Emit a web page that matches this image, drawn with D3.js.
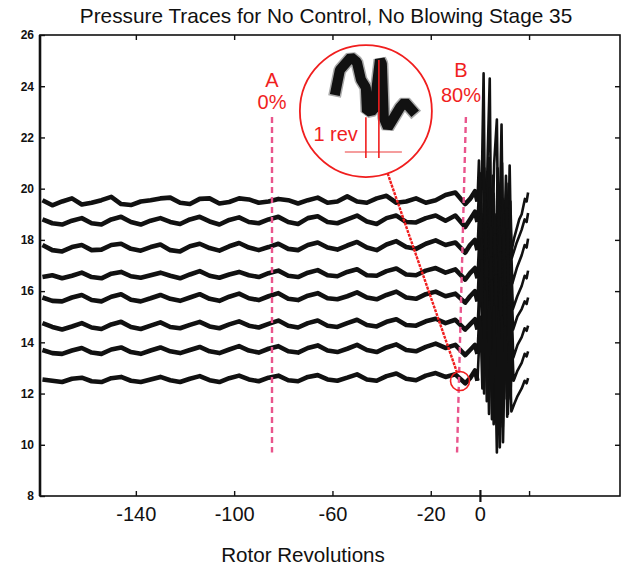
<!DOCTYPE html>
<html>
<head>
<meta charset="utf-8">
<script src="https://d3js.org/d3.v7.min.js"></script>
<style>
  body { margin: 0; background: #fff; }
  svg { display: block; font-family: "Liberation Sans", Arial, Helvetica, sans-serif; }
</style>
</head>
<body>
<div id="chart"></div>
<script>
var title = "Pressure Traces for No Control, No Blowing Stage 35";
var xTitle = "Rotor Revolutions";

var xTicks = [-140, -100, -60, -20, 0, 20];
var xTickLabels = ["-140", "-100", "-60", "-20", "0", ""];
var yTicks = [8, 10, 12, 14, 16, 18, 20, 22, 24, 26];

// traces sampled every 4 revs, starting at -178
var sampleRevs = d3.range(-178, -5, 4);

var trace1 = [19.55,19.35,19.5,19.62,19.38,19.45,19.55,19.68,19.4,19.36,19.5,19.55,19.62,19.65,19.45,19.4,19.6,19.62,19.42,19.48,19.62,19.58,19.45,19.5,19.6,19.55,19.42,19.55,19.65,19.45,19.5,19.7,19.5,19.45,19.62,19.72,19.45,19.5,19.62,19.45,19.55,19.75,19.85,19.4];
var trace2 = [18.8,18.65,18.6,18.75,18.85,18.65,18.6,18.8,18.9,18.7,18.6,18.75,18.85,18.7,18.62,18.8,18.9,18.72,18.6,18.78,18.88,18.7,18.65,18.8,18.9,18.7,18.62,18.85,18.92,18.7,18.65,18.8,18.95,18.72,18.62,18.85,18.95,18.7,18.68,18.85,18.95,18.75,18.95,18.5];
var trace3 = [17.8,17.6,17.55,17.72,17.8,17.6,17.62,17.8,17.85,17.65,17.58,17.72,17.82,17.6,17.55,17.75,17.85,17.68,17.58,17.75,17.88,17.7,17.6,17.72,17.85,17.65,17.6,17.8,17.9,17.7,17.62,17.78,17.92,17.7,17.6,17.82,17.95,17.72,17.65,17.85,17.98,17.8,17.9,17.5];
var trace4 = [16.55,16.62,16.5,16.6,16.72,16.55,16.5,16.68,16.75,16.58,16.52,16.62,16.72,16.6,16.5,16.65,16.78,16.6,16.52,16.65,16.75,16.62,16.55,16.7,16.8,16.6,16.55,16.72,16.82,16.62,16.58,16.75,16.85,16.62,16.6,16.78,16.88,16.65,16.62,16.8,16.9,16.72,16.85,16.45];
var trace5 = [15.75,15.62,15.6,15.75,15.85,15.65,15.6,15.78,15.88,15.66,15.6,15.72,15.85,15.7,15.62,15.75,15.88,15.7,15.62,15.78,15.9,15.72,15.65,15.8,15.92,15.7,15.65,15.82,15.92,15.72,15.68,15.8,15.95,15.75,15.68,15.85,15.98,15.75,15.7,15.88,15.98,15.8,15.9,15.55];
var trace6 = [14.75,14.6,14.5,14.62,14.75,14.58,14.52,14.7,14.8,14.6,14.52,14.65,14.78,14.6,14.55,14.68,14.8,14.62,14.55,14.7,14.82,14.65,14.58,14.72,14.85,14.65,14.58,14.75,14.85,14.65,14.6,14.75,14.88,14.68,14.62,14.8,14.9,14.68,14.65,14.82,14.92,14.75,14.88,14.5];
var trace7 = [13.7,13.58,13.55,13.68,13.78,13.6,13.55,13.72,13.8,13.62,13.55,13.68,13.8,13.65,13.58,13.7,13.82,13.65,13.58,13.72,13.85,13.68,13.6,13.75,13.85,13.65,13.6,13.78,13.88,13.68,13.62,13.75,13.9,13.7,13.62,13.8,13.92,13.7,13.65,13.82,13.95,13.78,13.9,13.5];
var trace8 = [12.55,12.5,12.45,12.58,12.62,12.48,12.45,12.6,12.65,12.5,12.45,12.55,12.65,12.52,12.45,12.58,12.68,12.52,12.45,12.6,12.7,12.55,12.48,12.62,12.7,12.52,12.48,12.65,12.72,12.55,12.5,12.62,12.75,12.55,12.5,12.68,12.78,12.58,12.52,12.7,12.8,12.65,12.75,12.4];

// stall / surge part of each trace: [rev, pressure]
var surge1 = [[-4,19.6],[-2,19.9],[-1,19.5],[-0.4,21.1],[0.3,17.5],[1.5,24.5],[2.2,17],[3.2,21.5],[4,24.3],[4.7,16.5],[5.8,21],[6.9,22.7],[7.6,16.8],[8.8,22.5],[9.5,16.5],[10.6,20.5],[11.4,17.2],[12.1,20.9],[12.7,17.5],[14,18.1],[16,18.8],[17,19.0],[18.3,19.6],[19,19.5],[19.6,19.85]];
var surge2 = [[-4,18.8],[-2,19.1],[-1,18.7],[0,20.6],[0.8,16.2],[1.8,20.8],[2.6,15.8],[3.6,21.2],[4.3,15.5],[5.3,20.5],[6.2,15.2],[7.2,20.8],[8,15.4],[9,21],[9.8,15.8],[10.8,20.2],[11.6,16.2],[12.4,19.5],[13,17.3],[15,17.9],[17,18.4],[18.2,18.8],[19,18.7],[19.6,19.05]];
var surge3 = [[-4,17.8],[-2,18.0],[-1,17.6],[0.2,20.2],[1,14.6],[2,19.8],[2.9,14.3],[3.9,20],[4.6,14.2],[5.6,19.8],[6.5,14],[7.5,20.2],[8.3,14.2],[9.2,19.6],[10.1,14.5],[11,19.2],[11.9,15.2],[12.6,18],[13.2,16.3],[15,16.9],[17,17.4],[18.2,17.8],[19,17.7],[19.6,18.05]];
var surge4 = [[-4,16.7],[-2,16.9],[-1,16.5],[0.4,19.4],[1.2,13.8],[2.2,19.5],[3.1,13.4],[4.1,19.2],[5,13],[6,19],[6.8,12.8],[7.8,19.3],[8.6,13],[9.6,19],[10.4,13.3],[11.3,18.4],[12.1,14.2],[12.8,17],[13.4,15.3],[15.2,15.8],[17,16.2],[18.2,16.6],[19,16.5],[19.6,16.8]];
var surge5 = [[-4,15.8],[-2,16.0],[-1,15.6],[0.6,19],[1.4,13],[2.5,18.6],[3.4,12.4],[4.4,18.5],[5.2,12.2],[6.2,18.2],[7,12],[8,18.5],[8.9,12.3],[9.8,18.2],[10.7,12.6],[11.5,17.4],[12.2,13.6],[12.9,16],[13.5,14.5],[15.2,15],[17,15.3],[18.2,15.6],[19,15.5],[19.6,15.75]];
var surge6 = [[-4,14.7],[-2,14.9],[-1,14.5],[0.7,18],[1.6,12.5],[2.7,17.6],[3.6,11.8],[4.6,17.3],[5.4,11.5],[6.4,17.4],[7.3,11.3],[8.3,17.5],[9.1,11.5],[10.1,17.2],[10.9,11.8],[11.7,16.3],[12.4,12.6],[13,15],[13.6,13.4],[15.3,13.9],[17,14.2],[18.2,14.55],[19,14.45],[19.6,14.65]];
var surge7 = [[-4,13.7],[-2,13.9],[-1,13.55],[0.8,17.2],[1.7,12],[2.8,16.5],[3.7,11.2],[4.8,16.4],[5.6,10.8],[6.6,16.6],[7.4,10.5],[8.4,16.5],[9.3,10.7],[10.2,16.2],[11.1,11.1],[11.8,15.4],[12.5,11.8],[13.1,14],[13.7,12.5],[15.3,12.9],[17,13.2],[18.2,13.55],[19,13.45],[19.6,13.65]];
var surge8 = [[-4,12.6],[-2,12.9],[-1,12.5],[0.2,15],[1,12.2],[2,16],[2.8,11.7],[3.9,15.6],[4.9,11.0],[5.8,15.4],[6.9,9.7],[7.6,15.2],[8.1,9.9],[8.9,15],[9.4,10.1],[10.3,14.6],[11.4,11.2],[12,14],[12.8,11.3],[14,11.6],[15.3,11.9],[17,12.2],[18.2,12.5],[19,12.4],[19.6,12.6]];

var traces = [trace1, trace2, trace3, trace4, trace5, trace6, trace7, trace8];
var surges = [surge1, surge2, surge3, surge4, surge5, surge6, surge7, surge8];

// markers A / B (rev at top and bottom of dashed line)
var markerNames = ["A", "B"];
var markerPcts = ["0%", "80%"];
var markerRevTop = [-84.6, -5.7];
var markerRevBottom = [-84.6, -9.3];
var markerLabelRev = [-84.6, -7.7];
var markerNameVal = [23.97, 24.36];
var markerPctVal = [23.11, 23.38];
var markerValTop = 22.8;
var markerValBottom = 9.7;

// zoom callout
var zoomCenter = [-46.4, 23.03];
var zoomTarget = [-8.1, 12.49];
var insetRevs = [-11.31,-11.0,-10.15,-9.69,-9.38,-9.0,-8.92,-8.38,-7.92,-7.77,-7.62,-7.31,-6.38,-6.0,-5.46];
var insetVals = [12.5,12.75,12.91,12.85,12.63,12.53,12.23,12.25,12.88,12.83,12.15,12.03,12.28,12.35,12.25];

var W = 628, H = 569;
var plotLeft = 40, plotRight = 620, plotTop = 35, plotBottom = 496;

var x = d3.scaleLinear().domain([-179, 57]).range([plotLeft, plotRight]);
var y = d3.scaleLinear().domain([8, 26]).range([plotBottom, plotTop]);

var svg = d3.select("#chart").append("svg")
	.attr("width", W)
	.attr("height", H);

svg.append("rect").attr("width", W).attr("height", H).attr("fill", "#fff");

// title
svg.append("text")
	.attr("x", 326).attr("y", 23)
	.attr("text-anchor", "middle")
	.style("font-size", "20.8px")
	.attr("fill", "#111")
	.text(title);

svg.append("text")
	.attr("x", 303).attr("y", 562)
	.attr("text-anchor", "middle")
	.style("font-size", "20.6px")
	.attr("fill", "#111")
	.text(xTitle);

// axes, ticks pointing inward
var gl = svg.append("g").attr("transform", "translate(" + plotLeft + ",0)")
	.call(d3.axisLeft(y).tickValues(yTicks).tickSize(-5).tickPadding(6).tickFormat(d3.format("d")));
var gr = svg.append("g").attr("transform", "translate(" + plotRight + ",0)")
	.call(d3.axisRight(y).tickValues(yTicks.slice(1, -1)).tickSize(-5).tickFormat(""));
var gt = svg.append("g").attr("transform", "translate(0," + plotTop + ")")
	.call(d3.axisTop(x).tickValues([-140, -100, -60, -20, 20]).tickSize(-5).tickFormat(""));
var gb = svg.append("g").attr("transform", "translate(0," + plotBottom + ")")
	.call(d3.axisBottom(x).tickValues(xTicks).tickSize(-5).tickPadding(11)
		.tickFormat(function(d, i) { return xTickLabels[i]; }));

[gl, gr, gt, gb].forEach(function(g) {
	g.select(".domain").remove();
	g.selectAll(".tick line").attr("stroke", "#111").attr("stroke-width", 1.4);
});
gl.selectAll(".tick text").style("font-size", "12px").style("font-weight", "bold").attr("fill", "#111");
gb.selectAll(".tick text").style("font-size", "20px").attr("fill", "#111");
// the zero tick crosses the axis
gb.selectAll(".tick").filter(function(d) { return d === 0; }).select("line")
	.attr("y1", -6).attr("y2", 6).attr("stroke-width", 2.2);

// frame
svg.append("rect")
	.attr("x", plotLeft).attr("y", plotTop)
	.attr("width", plotRight - plotLeft).attr("height", plotBottom - plotTop)
	.attr("fill", "none").attr("stroke", "#111").attr("stroke-width", 1.6);
svg.append("line")
	.attr("x1", plotLeft).attr("x2", plotLeft).attr("y1", plotTop).attr("y2", plotBottom)
	.attr("stroke", "#111").attr("stroke-width", 2.6);

var line = d3.line()
	.x(function(d) { return x(d[0]); })
	.y(function(d) { return y(d[1]); });

// pre-stall traces (thick) and surge (thin)
traces.forEach(function(tr, i) {
	var pts = tr.map(function(v, j) { return [sampleRevs[j], v]; });
	pts = pts.concat(surges[i].filter(function(p) { return p[0] <= -1; }));
	svg.append("path")
		.attr("d", line(pts))
		.attr("fill", "none")
		.attr("stroke", "#111")
		.attr("stroke-width", 4.6)
		.attr("stroke-linejoin", "round");
});
surges.forEach(function(s) {
	svg.append("path")
		.attr("d", line(s.filter(function(p) { return p[0] >= -1; })))
		.attr("fill", "none")
		.attr("stroke", "#111")
		.attr("stroke-width", 2.6)
		.attr("stroke-linejoin", "round");
});

// dashed markers
var pink = "#e9558c", red = "#f01e1e";
markerNames.forEach(function(name, i) {
	svg.append("line")
		.attr("x1", x(markerRevTop[i])).attr("y1", y(markerValTop))
		.attr("x2", x(markerRevBottom[i])).attr("y2", y(markerValBottom))
		.attr("stroke", pink).attr("stroke-width", 2.4)
		.attr("stroke-dasharray", "6,4");
	svg.append("text")
		.attr("x", x(markerLabelRev[i])).attr("y", y(markerNameVal[i]))
		.attr("text-anchor", "middle").attr("fill", red)
		.style("font-size", "20px")
		.text(name);
	svg.append("text")
		.attr("x", x(markerLabelRev[i])).attr("y", y(markerPctVal[i]))
		.attr("text-anchor", "middle").attr("fill", red)
		.style("font-size", "20px")
		.text(markerPcts[i]);
});

// callout circle, connecting line and small circle
var cx = x(zoomCenter[0]), cy = y(zoomCenter[1]), R = 66;
var tx = x(zoomTarget[0]), ty = y(zoomTarget[1]), r = 9.5;
var dx = tx - cx, dy = ty - cy, len = Math.sqrt(dx * dx + dy * dy);
svg.append("line")
	.attr("x1", cx + dx / len * R).attr("y1", cy + dy / len * R)
	.attr("x2", tx - dx / len * r).attr("y2", ty - dy / len * r)
	.attr("stroke", red).attr("stroke-width", 2.4)
	.attr("stroke-dasharray", "3,1");
svg.append("circle").attr("cx", cx).attr("cy", cy).attr("r", R)
	.attr("fill", "none").attr("stroke", red).attr("stroke-width", 1.8);
svg.append("circle").attr("cx", tx).attr("cy", ty).attr("r", r)
	.attr("fill", "none").attr("stroke", red).attr("stroke-width", 1.6);

// magnified trace inside the circle
var ix = d3.scaleLinear().domain([-11, -7]).range([cx - 26, cx + 26]);
var iy = d3.scaleLinear().domain([12, 13]).range([cy + 19, cy - 61]);
var inset = insetRevs.map(function(rv, i) { return [rv, insetVals[i]]; });
var iline = d3.line()
	.x(function(d) { return ix(d[0]); })
	.y(function(d) { return iy(d[1]); });
svg.append("path").attr("d", iline(inset))
	.attr("fill", "none").attr("stroke", "#aaa").attr("stroke-width", 13)
	.attr("stroke-linejoin", "bevel").attr("stroke-linecap", "square");
svg.append("path").attr("d", iline(inset))
	.attr("fill", "none").attr("stroke", "#111").attr("stroke-width", 10)
	.attr("stroke-linejoin", "bevel").attr("stroke-linecap", "square");

// "1 rev" marker
svg.append("line")
	.attr("x1", ix(-10.62)).attr("x2", ix(-6.23))
	.attr("y1", iy(11.725)).attr("y2", iy(11.725))
	.attr("stroke", "#f27d7d").attr("stroke-width", 1.6);
[[-9, 12.16], [-8, 12.875]].forEach(function(m) {
	svg.append("line")
		.attr("x1", ix(m[0])).attr("x2", ix(m[0]))
		.attr("y1", iy(m[1])).attr("y2", iy(11.65))
		.attr("stroke", red).attr("stroke-width", 1.6);
});
svg.append("text")
	.attr("x", ix(-9.615)).attr("y", iy(11.86))
	.attr("text-anchor", "end").attr("fill", red)
	.style("font-size", "20px")
	.text("1 rev");
</script>
</body>
</html>
